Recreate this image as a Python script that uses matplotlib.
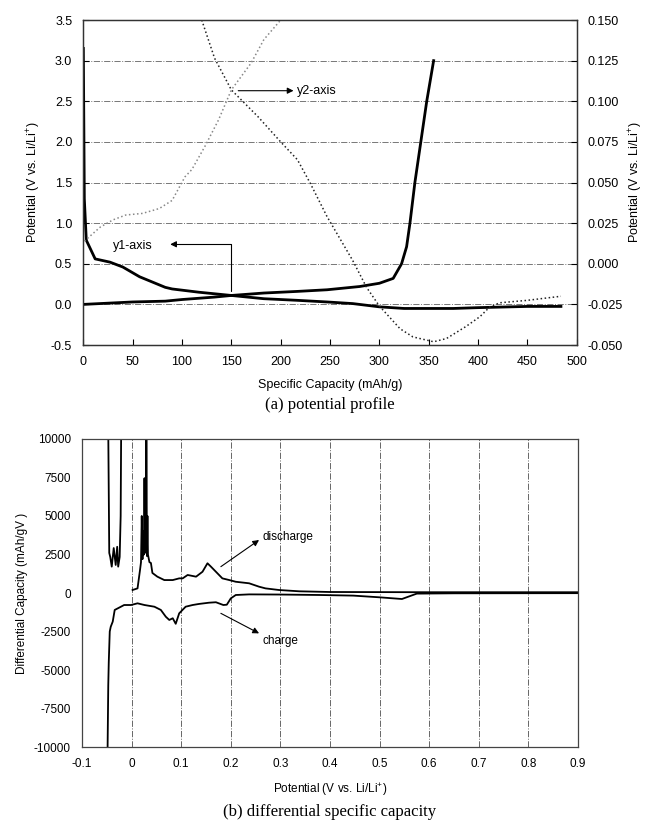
import numpy as np
import matplotlib
matplotlib.use("Agg")
import matplotlib.pyplot as plt
from matplotlib.ticker import FormatStrFormatter

plt.rcParams['font.family'] = ['Liberation Sans', 'DejaVu Sans']
plt.rcParams['mathtext.fontset'] = 'custom'
plt.rcParams['mathtext.rm'] = 'Liberation Sans'
plt.rcParams['mathtext.it'] = 'Liberation Sans'
plt.rcParams['axes.unicode_minus'] = False

# ---------- (a) potential profile, y1 axis (V) ----------
cap_dis = [0, 1, 3, 12, 27, 40, 57, 73, 83, 90, 117, 150, 183, 217, 247,
           273, 300, 325, 375, 400, 450, 484]
v_dis = [3.15, 1.30, 0.79, 0.56, 0.52, 0.46, 0.34, 0.26, 0.21, 0.19, 0.15,
         0.11, 0.07, 0.05, 0.03, 0.01, -0.03, -0.05, -0.05, -0.04, -0.025, -0.025]

cap_chg = [0, 50, 83, 100, 133, 150, 183, 217, 247, 280, 300, 314, 322.5,
           327.6, 331, 336, 342, 348, 355]
v_chg = [0.0, 0.03, 0.04, 0.06, 0.09, 0.11, 0.14, 0.16, 0.18, 0.22, 0.26,
         0.32, 0.50, 0.71, 1.0, 1.5, 2.0, 2.5, 3.0]

# ---------- (a) y2 axis curves ----------
cap_rise = [1, 4, 17, 30, 43, 60, 77, 90, 103, 110, 123, 137, 150, 170, 183, 200]
y2_rise = [0.014, 0.0155, 0.0225, 0.027, 0.030, 0.031, 0.034, 0.039, 0.0535,
           0.058, 0.072, 0.0885, 0.107, 0.1235, 0.138, 0.150]

cap_fall = [120, 133, 150, 177, 200, 217, 230, 247, 273, 287, 300, 321, 334,
            355, 368, 388, 402, 412, 422, 450, 484]
y2_fall = [0.150, 0.1265, 0.107, 0.0905, 0.075, 0.064, 0.0495, 0.029, 0.002,
           -0.0145, -0.026, -0.040, -0.045, -0.048, -0.046, -0.0385, -0.0325,
           -0.0265, -0.024, -0.0225, -0.020]

# ---------- (b) differential capacity ----------
pot_dis1 = [-0.047, -0.045, -0.043, -0.040, -0.036, -0.032, -0.029, -0.027,
            -0.024, -0.022, -0.021]
dq_dis1 = [10500, 2600, 2340, 1710, 2920, 1820, 3000, 1710, 2340, 5000, 10500]

pot_dis2 = [0.002, 0.012, 0.017, 0.019, 0.0205, 0.022, 0.0235, 0.025, 0.026,
            0.027, 0.028, 0.029, 0.0298, 0.031, 0.032, 0.033, 0.036, 0.039,
            0.042, 0.052, 0.066, 0.083, 0.096, 0.103, 0.113, 0.13, 0.143,
            0.153, 0.16, 0.17, 0.183, 0.197, 0.21, 0.237, 0.257, 0.27, 0.297,
            0.338, 0.4, 0.6, 0.9]
dq_dis2 = [195, 300, 1490, 2000, 5000, 2200, 4000, 2500, 7450, 2600, 7450,
           3000, 10500, 2400, 5000, 2500, 2000, 1950, 1300, 1060, 840, 840,
           950, 950, 1170, 1060, 1380, 1930, 1710, 1380, 950, 840, 730, 630,
           410, 300, 195, 110, 65, 50, 50]

pot_chg = [-0.0485, -0.047, -0.046, -0.044, -0.042, -0.038, -0.034, -0.028,
           -0.015, -0.001, 0.012, 0.026, 0.046, 0.059, 0.069, 0.076, 0.083,
           0.089, 0.096, 0.109, 0.123, 0.136, 0.156, 0.170, 0.185, 0.192,
           0.200, 0.210, 0.237, 0.30, 0.38, 0.447, 0.50, 0.545, 0.575, 0.65, 0.9]
dq_chg = [-10500, -6000, -4500, -2500, -2190, -1860, -1100, -1000, -780, -780,
          -670, -780, -890, -1100, -1540, -1750, -1640, -2000, -1320, -890,
          -780, -710, -630, -600, -780, -760, -350, -130, -90, -100, -130,
          -170, -280, -390, -40, -20, -10]

fig = plt.figure(figsize=(6.48, 8.27), dpi=100)

# ========================= (a) =========================
ax1 = fig.add_axes([0.1286, 0.5828, 0.7614, 0.393])
ax2 = ax1.twinx()

ax1.plot(cap_dis, v_dis, color='black', lw=2.0, zorder=4)
ax1.plot(cap_chg, v_chg, color='black', lw=2.0, zorder=4)
ax2.plot(cap_rise, y2_rise, color='#888888', ls=':', lw=1.1)
ax2.plot(cap_fall, y2_fall, color='#222222', ls=':', lw=1.1)

ax1.set_xlim(0, 500)
ax1.set_ylim(-0.5, 3.5)
ax2.set_ylim(-0.05, 0.15)
ax1.set_xticks(np.arange(0, 501, 50))
ax1.set_yticks(np.arange(-0.5, 3.51, 0.5))
ax2.set_yticks(np.arange(-0.05, 0.151, 0.025))
ax1.yaxis.set_major_formatter(FormatStrFormatter('%.1f'))
ax2.yaxis.set_major_formatter(FormatStrFormatter('%.3f'))
ax1.yaxis.grid(True, color='#777777', ls='-.', lw=0.7)
ax1.set_axisbelow(True)
for a in (ax1, ax2):
    a.tick_params(direction='in', labelsize=9, length=4, width=0.8, pad=8)
    for s in a.spines.values():
        s.set_linewidth(0.9)
        s.set_color('#333333')

ax1.set_xlabel('Specific Capacity (mAh/g)', fontsize=9, labelpad=8)
ax1.set_ylabel('Potential (V vs. Li/Li$^{+}$)', fontsize=9, labelpad=6)
ax2.set_ylabel('Potential (V vs. Li/Li$^{+}$)', fontsize=9, labelpad=3)

ax1.annotate('', xy=(213, 2.63), xytext=(157, 2.63),
             arrowprops=dict(arrowstyle='-|>', color='black', lw=0.8,
                             shrinkA=0, shrinkB=0, mutation_scale=9))
ax1.text(216, 2.63, 'y2-axis', fontsize=9, va='center', ha='left')
ax1.annotate('', xy=(88, 0.74), xytext=(150, 0.17),
             arrowprops=dict(arrowstyle='-|>', color='black', lw=0.8,
                             shrinkA=0, shrinkB=0, mutation_scale=9,
                             connectionstyle='angle,angleA=90,angleB=0,rad=0'))
ax1.text(30, 0.72, 'y1-axis', fontsize=9, va='center', ha='left')

fig.text(0.509, 1 - 405 / 827, '(a) potential profile', ha='center', va='center',
         family='Liberation Serif', fontsize=12)

# ========================= (b) =========================
ax3 = fig.add_axes([0.1265, 0.0967, 0.7655, 0.3725])
ax3.plot(pot_dis1, dq_dis1, color='black', lw=1.3)
ax3.plot(pot_dis2, dq_dis2, color='black', lw=1.3)
ax3.plot(pot_chg, dq_chg, color='black', lw=1.3)

ax3.set_xlim(-0.1, 0.9)
ax3.set_ylim(-10000, 10000)
ax3.set_xticks(np.round(np.arange(-0.1, 0.91, 0.1), 1))
ax3.set_xticklabels(['-0.1', '0', '0.1', '0.2', '0.3', '0.4', '0.5', '0.6',
                     '0.7', '0.8', '0.9'])
ax3.set_yticks(np.arange(-10000, 10001, 2500))
ax3.xaxis.grid(True, color='#666666', ls='-.', lw=0.7)
ax3.set_axisbelow(True)
ax3.tick_params(direction='in', labelsize=8.5, length=0, pad=8)
for s in ax3.spines.values():
    s.set_linewidth(0.9)
    s.set_color('#444444')

ax3.set_xlabel('Potential (V vs. Li/Li$^{+}$)', fontsize=8.5, labelpad=8)
ax3.set_ylabel('Differential Capacity (mAh/gV )', fontsize=8.5, labelpad=4)

ax3.annotate('', xy=(0.257, 3440), xytext=(0.18, 1710),
             arrowprops=dict(arrowstyle='-|>', color='black', lw=0.8,
                             shrinkA=0, shrinkB=0, mutation_scale=9))
ax3.text(0.263, 3640, 'discharge', fontsize=8.5, va='center', ha='left')
ax3.annotate('', xy=(0.257, -2620), xytext=(0.18, -1320),
             arrowprops=dict(arrowstyle='-|>', color='black', lw=0.8,
                             shrinkA=0, shrinkB=0, mutation_scale=9))
ax3.text(0.263, -3100, 'charge', fontsize=8.5, va='center', ha='left')

fig.text(0.509, 1 - 812 / 827, '(b) differential specific capacity', ha='center',
         va='center', family='Liberation Serif', fontsize=12)

fig.savefig('out.png', dpi=100)
